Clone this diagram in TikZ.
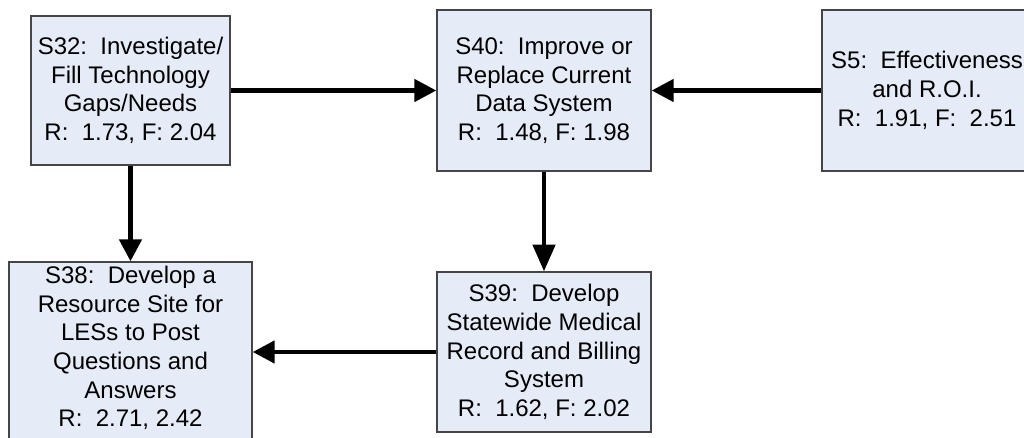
\documentclass[tikz,border=0pt]{standalone}
\usepackage{fontspec}
\setmainfont{Liberation Sans}
\usetikzlibrary{arrows.meta}
\definecolor{boxfill}{HTML}{E6ECF7}
\definecolor{boxline}{HTML}{454545}
\begin{document}
\begin{tikzpicture}[x=0.75pt,y=-0.75pt,
  stepbox/.style={draw=boxline, line width=1pt, fill=boxfill, rectangle,
    inner sep=0pt, align=center,
    font=\fontsize{18pt}{21.5pt}\selectfont},
  txt/.style={inner sep=0pt, align=center,
    font=\fontsize{18pt}{21.5pt}\selectfont},
  flow/.style={line width=3.4pt, -{Triangle[length=16.5pt,width=16.5pt]}},
  vflow/.style={line width=3.4pt, -{Triangle[length=20pt,width=16.5pt]}}]
\useasboundingbox (0,0) rectangle (1024,438);
\clip (0,0) rectangle (1024,438);

% strategy boxes
\node[stepbox, minimum width=149.25pt, minimum height=111.75pt] (s32) at (130.5,90.5)
  {S32:\ \ Investigate/\\Fill Technology\\Gaps/Needs\\R:\ \ 1.73, F: 2.04};
\node[stepbox, minimum width=160.5pt, minimum height=120.75pt] (s40) at (544,90.5)
  {S40:\ \ Improve or\\Replace Current\\Data System\\R:\ \ 1.48, F: 1.98};
\node[stepbox, minimum width=157.5pt, minimum height=120.75pt] (s5) at (927,90.5)
  {S5:\ \ Effectiveness\\and R.O.I.\\R:\ \ 1.91, F:\ \ 2.51};
\node[stepbox, minimum width=182.25pt, minimum height=138pt] (s38) at (130.5,354) {};
\node[txt] (s38t) at (130.5,348)
  {S38:\ \ Develop a\\Resource Site for\\LESs to Post\\Questions and\\Answers\\R:\ \ 2.71, 2.42};
\node[stepbox, minimum width=160.5pt, minimum height=120pt] (s39) at (544,352)
  {S39:\ \ Develop\\Statewide Medical\\Record and Billing\\System\\R:\ \ 1.62, F: 2.02};

% dependencies
\draw[flow] (s32.east) -- (s40.west);
\draw[flow] (s5.west) -- (s40.east);
\draw[vflow] (s40.south) -- (s39.north);
\draw[flow] (s32.south) -- (s38.north);
\draw[flow] (s39.west) -- (s39.west -| s38.east);
\end{tikzpicture}
\end{document}
